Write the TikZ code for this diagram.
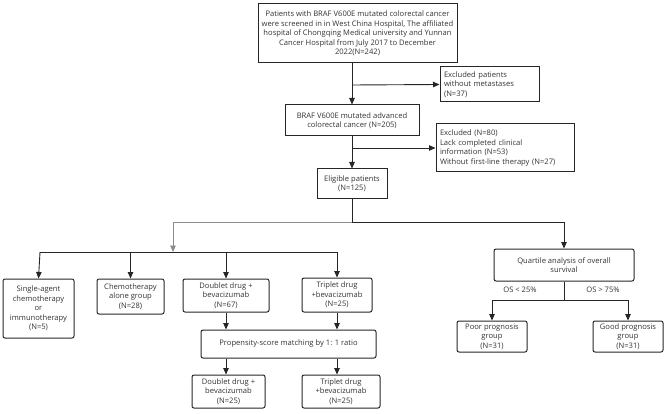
\documentclass[tikz,border=0pt]{standalone}
\usepackage{fontspec}
\setmainfont{Open Sans}
\usetikzlibrary{arrows.meta}
\begin{document}
\begin{tikzpicture}[x=1pt,y=-1pt,
  box/.style={draw=black!85, line width=1pt, align=center, inner sep=1pt,
    font=\fontsize{7.6}{9.4}\selectfont, text=black!80, anchor=center},
  rbox/.style={box, rounded corners=2pt},
  lbox/.style={box, align=left, text width=#1, inner sep=4pt},
  tip/.style={-{Triangle[length=6.5pt,width=5.5pt]}},
  arr/.style={tip, line width=0.9pt, draw=black!85},
  ln/.style={line width=0.9pt, draw=black!85},
  gln/.style={line width=0.9pt, draw=black!45},
  lab/.style={font=\fontsize{7.6}{9.4}\selectfont, text=black!80}]
\useasboundingbox (0,0) rectangle (669,414);
\node[box, minimum width=199pt, minimum height=59pt] (top) at (357.5,33.5)
  {Patients with BRAF V600E mutated colorectal cancer\\were screened in in West China Hospital, The affiliated\\hospital of Chongqing Medical university and Yunnan\\Cancer Hospital from July 2017 to December\\2022(N=242)};
\node[lbox=91pt, minimum width=99pt, minimum height=35pt] (ex1) at (489.5,84.5)
  {Excluded patients\\without metastases\\(N=37)};
\node[box, minimum width=134pt, minimum height=31pt] (adv) at (352,120.5)
  {BRAF V600E mutated advanced\\colorectal cancer (N=205)};
\node[lbox=130pt, minimum width=138pt, minimum height=48pt] (ex2) at (505,148)
  {Excluded (N=80)\\Lack completed clinical\\information (N=53)\\Without first-line therapy (N=27)};
\node[box, minimum width=70pt, minimum height=30pt] (elig) at (352,184)
  {Eligible patients\\(N=125)};
\node[rbox, minimum width=71pt, minimum height=59pt] (single) at (38.5,308.5)
  {Single-agent\\chemotherapy\\or\\immunotherapy\\(N=5)};
\node[rbox, minimum width=67pt, minimum height=35pt] (chemo) at (130.5,296.5)
  {Chemotherapy\\alone group\\(N=28)};
\node[rbox, minimum width=86pt, minimum height=33pt] (doub) at (226,295.5)
  {Doublet drug +\\bevacizumab\\(N=67)};
\node[rbox, minimum width=70pt, minimum height=34pt] (trip) at (337,295)
  {Triplet drug\\+bevacizumab\\(N=25)};
\node[rbox, minimum width=175pt, minimum height=28pt] (prop) at (288.5,344)
  {Propensity-score matching by 1: 1 ratio};
\node[rbox, minimum width=73pt, minimum height=33pt] (doub2) at (228.5,391.5)
  {Doublet drug +\\bevacizumab\\(N=25)};
\node[rbox, minimum width=78pt, minimum height=33pt] (trip2) at (341,391.5)
  {Triplet drug\\+bevacizumab\\(N=25)};
\node[rbox, minimum width=140pt, minimum height=32pt] (quart) at (564,265)
  {Quartile analysis of overall\\survival};
\node[rbox, minimum width=70pt, minimum height=31pt] (poor) at (492,336.5)
  {Poor prognosis\\group\\(N=31)};
\node[rbox, minimum width=70pt, minimum height=31pt] (good) at (628,336.5)
  {Good prognosis\\group\\(N=31)};
\node[lab] (os1) at (520,290) {OS < 25\%};
\node[lab] (os2) at (603,290) {OS > 75\%};
% spine
\coordinate (j1) at (352,85);
\coordinate (j2) at (352,148);
\coordinate (s) at (352,222);
\coordinate (g) at (173,222);
\coordinate (gb) at (173,252);
\coordinate (hl) at (40,252);
\coordinate (hr) at (337,252);
\coordinate (r) at (564,222);
\coordinate (q) at (564,300);
\draw[arr] (top.south -| adv.north) -- (adv.north);
\draw[arr] (j1) -- (ex1.west);
\draw[arr] (adv.south) -- (elig.north);
\draw[arr] (j2) -- (ex2.west);
\draw[ln] (elig.south) -- (s);
\draw[gln] (s) -- (g);
\draw[gln, tip] (g) -- (gb);
\draw[ln] (hl) -- (hr);
\draw[arr] (hl) -- (single.north);
\draw[arr] (hl -| chemo.north) -- (chemo.north);
\draw[arr] (hl -| doub.north) -- (doub.north);
\draw[arr] (hr) -- (trip.north);
\draw[arr] (doub.south) -- (doub.south |- prop.north);
\draw[arr] (trip.south) -- (trip.south |- prop.north);
\draw[arr] (prop.south -| doub.south) -- (doub2.north -| doub.south);
\draw[arr] (prop.south -| trip.south) -- (trip2.north -| trip.south);
\draw[ln] (s) -- (r);
\draw[arr] (r) -- (quart.north);
\draw[ln] (quart.south) -- (q);
\draw[ln] (q -| poor.north) -- (q -| good.north);
\draw[arr] (q -| poor.north) -- (poor.north);
\draw[arr] (q -| good.north) -- (good.north);
\end{tikzpicture}
\end{document}
